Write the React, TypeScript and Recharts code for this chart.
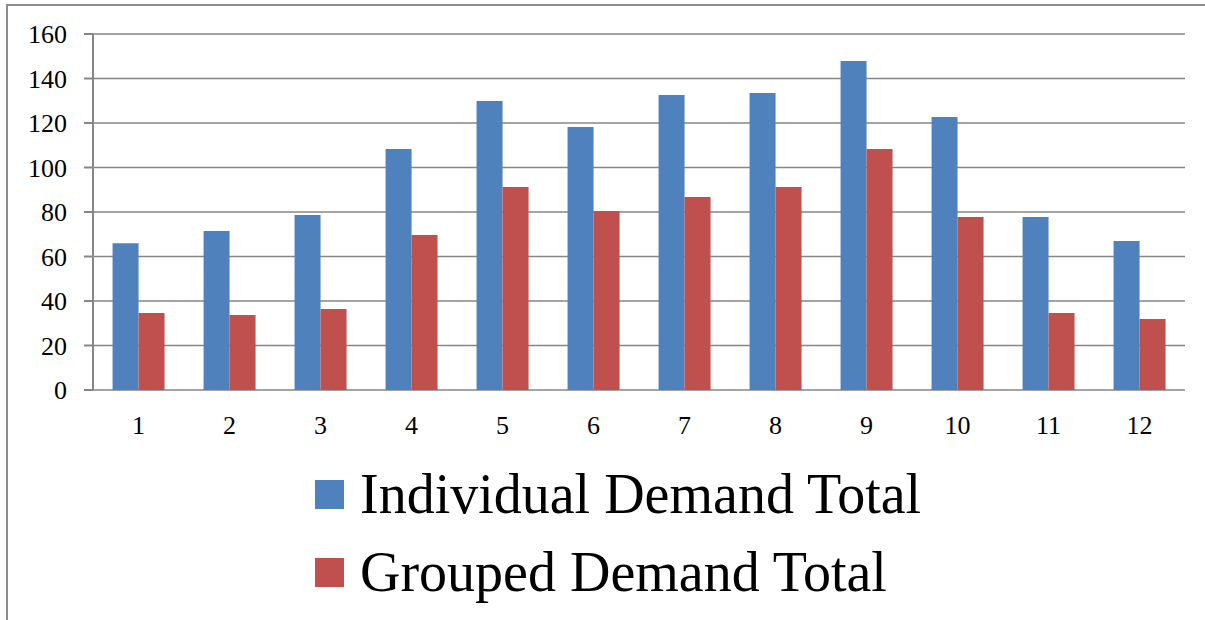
import React from 'react';
import { BarChart, Bar, XAxis, YAxis, CartesianGrid, Legend } from 'recharts';

const categories = ['1', '2', '3', '4', '5', '6', '7', '8', '9', '10', '11', '12'];
const individualDemand = [66, 71.5, 78.7, 108.3, 129.9, 118.2, 132.6, 133.5, 147.9, 122.7, 77.8, 67];
const groupedDemand = [34.6, 33.7, 36.4, 69.7, 91.2, 80.4, 86.7, 91.2, 108.3, 77.8, 34.6, 31.9];
const yTicks = [0, 20, 40, 60, 80, 100, 120, 140, 160];
const boundaryTicks = [0, 1, 2, 3, 4, 5, 6, 7, 8, 9, 10, 11, 12];

const seriesNames = ['Individual Demand Total', 'Grouped Demand Total'];
const seriesColors = ['#4F81BD', '#C0504D'];

const data = categories.map((c, i) => ({
  cat: c,
  idx: i,
  individual: individualDemand[i],
  grouped: groupedDemand[i],
}));

const FONT = '"Liberation Serif", "Times New Roman", serif';
const GRID = '#868686';

const XTick = (props: any) => {
  const { x, y, payload } = props;
  return (
    <text x={x} y={y} dy="0.71em" textAnchor="middle" fill="#000" fontSize={26} fontFamily={FONT} style={{ fontFamily: FONT }}>
      {payload.value}
    </text>
  );
};

const YTick = (props: any) => {
  const { x, y, payload } = props;
  return (
    <text x={x} y={y} dy="0.355em" textAnchor="end" fill="#000" fontSize={26} fontFamily={FONT} style={{ fontFamily: FONT }}>
      {payload.value}
    </text>
  );
};

const LegendContent = () => (
  <div style={{ fontFamily: FONT }}>
    {seriesNames.map((n, i) => (
      <div key={n} style={{ display: 'flex', alignItems: 'center', height: 78 }}>
        <div style={{ width: 29, height: 29, background: seriesColors[i], marginRight: 16 }} />
        <span style={{ fontSize: 56, lineHeight: '78px', color: '#000', whiteSpace: 'nowrap' }}>{n}</span>
      </div>
    ))}
  </div>
);

export default function App() {
  return (
    <div style={{ position: 'absolute', left: 0, top: 0, width: 1205, height: 620, background: '#fff', overflow: 'hidden' }}>
      <div
        style={{
          position: 'absolute',
          left: 6,
          top: 4,
          width: 1205,
          height: 620,
          borderTop: '2px solid #8c8c8c',
          borderLeft: '2px solid #8c8c8c',
        }}
      />
      <div style={{ position: 'absolute', left: 0, top: 0 }}>
        <BarChart
          width={1205}
          height={620}
          data={data}
          margin={{ top: 34, right: 20, left: 0, bottom: 200 }}
          barCategoryGap="21.5%"
          barGap={0}
        >
          <CartesianGrid vertical={false} stroke={GRID} strokeWidth={1.5} />
          <XAxis
            xAxisId="bounds"
            dataKey="idx"
            type="number"
            domain={[0, 12]}
            ticks={boundaryTicks}
            tick={false}
            tickSize={8}
            tickLine={{ stroke: GRID, strokeWidth: 2 }}
            axisLine={{ stroke: GRID, strokeWidth: 2 }}
            height={0}
            allowDataOverflow
          />
          <XAxis
            xAxisId="cat"
            dataKey="cat"
            tickLine={false}
            axisLine={false}
            tickSize={8}
            tickMargin={18}
            tick={<XTick />}
            height={30}
            interval={0}
          />
          <YAxis
            domain={[0, 160]}
            ticks={yTicks}
            width={93}
            tickSize={9}
            tickMargin={17}
            tick={<YTick />}
            tickLine={{ stroke: GRID, strokeWidth: 2 }}
            axisLine={{ stroke: GRID, strokeWidth: 2 }}
            interval={0}
          />
          <Legend
            layout="vertical"
            align="center"
            verticalAlign="middle"
            content={<LegendContent />}
            wrapperStyle={{ top: 455, left: 315, width: 700 }}
          />
          <Bar xAxisId="cat" dataKey="individual" name={seriesNames[0]} fill={seriesColors[0]} isAnimationActive={false} />
          <Bar xAxisId="cat" dataKey="grouped" name={seriesNames[1]} fill={seriesColors[1]} isAnimationActive={false} />
        </BarChart>
      </div>
    </div>
  );
}
